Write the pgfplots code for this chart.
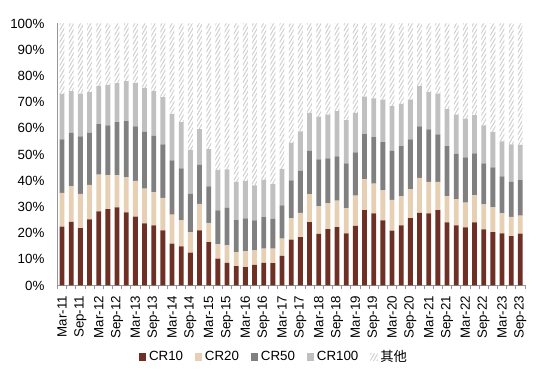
\documentclass[border=0pt]{standalone}
\usepackage{fontspec}
\setmainfont{Liberation Sans}
\newfontfamily\cjk{Noto Sans CJK SC}
\usepackage{pgfplots}
\pgfplotsset{compat=1.18}
\usepackage{pgfplotstable}
\usetikzlibrary{patterns.meta}
\definecolor{cra}{RGB}{110,48,36}
\definecolor{crb}{RGB}{230,207,178}
\definecolor{crc}{RGB}{128,128,128}
\definecolor{crd}{RGB}{192,192,192}
\definecolor{hatch}{RGB}{205,205,205}
\definecolor{axisgray}{RGB}{150,150,150}
\pgfplotstableread{
i a b c d e
0 22.5 12.8 20.5 17.2 27.0
1 24.3 13.5 20.5 15.9 25.8
2 21.9 13.1 21.9 16.3 26.8
3 25.2 13.2 19.8 15.6 26.2
4 28.3 14.0 19.3 14.6 23.8
5 29.1 13.0 19.0 15.4 23.5
6 29.8 12.3 20.2 14.9 22.8
7 27.9 13.4 21.4 15.3 22.0
8 26.3 13.6 20.8 16.5 22.8
9 23.7 13.3 21.6 16.8 24.6
10 22.9 12.6 21.6 17.2 25.7
11 21.0 12.4 20.5 18.0 28.1
12 16.0 11.0 20.7 17.7 34.6
13 14.9 9.9 19.9 17.6 37.7
14 12.5 7.8 14.8 16.7 48.2
15 21.0 10.1 15.0 13.6 40.3
16 16.5 7.4 13.9 14.2 48.0
17 10.2 5.6 12.9 15.3 56.0
18 8.6 6.7 14.4 14.6 55.7
19 7.4 5.3 12.2 14.6 60.5
20 7.0 6.0 12.6 14.2 60.2
21 7.9 5.5 11.4 13.4 61.8
22 8.6 5.5 12.0 14.2 59.7
23 8.5 5.6 11.4 13.3 61.2
24 11.3 6.6 12.7 13.8 55.6
25 17.5 8.2 14.4 14.3 45.6
26 18.5 9.2 16.1 15.0 41.2
27 24.2 10.7 16.5 14.5 34.1
28 19.7 10.5 17.9 16.3 35.6
29 21.5 9.9 17.1 16.7 34.8
30 22.3 10.1 16.9 17.2 33.5
31 19.9 9.6 17.1 16.5 36.9
32 22.7 11.6 16.5 15.1 34.1
33 28.8 11.8 17.2 14.3 27.9
34 27.5 11.4 17.7 14.8 28.6
35 24.8 11.6 18.3 16.2 29.1
36 20.9 11.8 18.7 17.1 31.5
37 22.9 11.1 19.2 16.1 30.7
38 25.7 11.0 19.1 15.1 29.1
39 27.7 13.4 19.6 15.4 23.9
40 27.5 12.0 20.1 14.2 26.2
41 28.8 10.7 18.2 15.5 26.8
42 24.1 10.0 19.1 14.1 32.7
43 22.9 10.1 17.3 14.9 34.8
44 22.2 9.4 17.3 14.8 36.3
45 24.1 10.3 16.0 14.6 35.0
46 21.4 9.6 15.6 14.5 38.9
47 20.4 9.4 15.3 13.5 41.4
48 19.9 7.7 14.0 13.4 45.0
49 18.8 7.4 13.3 14.4 46.1
50 19.8 6.9 13.5 13.5 46.3
}\datatable
\pgfplotsset{sqlegend/.style={legend image code/.code={\draw[##1,draw=none] (0pt,-2.7pt) rectangle (5.4pt,2.7pt);}}}
\begin{document}
\begin{tikzpicture}
\begin{axis}[
  scale only axis, width=350.6pt, height=196.5pt,
  ybar stacked, bar width=3.6pt,
  xmin=-0.5, xmax=50.5, ymin=0, ymax=100,
  axis x line*=bottom, axis y line*=left,
  axis line style={draw=axisgray, line width=0.6pt},
  xtick={0,2,...,50},
  xticklabels={Mar-11,Sep-11,Mar-12,Sep-12,Mar-13,Sep-13,Mar-14,Sep-14,Mar-15,Sep-15,Mar-16,Sep-16,Mar-17,Sep-17,Mar-18,Sep-18,Mar-19,Sep-19,Mar-20,Sep-20,Mar-21,Sep-21,Mar-22,Sep-22,Mar-23,Sep-23},
  minor xtick={-0.5,0.5,...,50.5},
  major x tick style={draw=none},
  minor x tick style={draw=axisgray, line width=0.6pt},
  tick align=outside, minor tick length=2.5pt,
  ytick={0,10,...,100},
  yticklabels={0\%,10\%,20\%,30\%,40\%,50\%,60\%,70\%,80\%,90\%,100\%},
  y tick style={draw=none},
  x tick label style={rotate=90, anchor=east, font=\fontsize{10}{12}\selectfont},
  y tick label style={font=\fontsize{10}{12}\selectfont, xshift=-2pt},
  legend columns=5,
  legend style={draw=none, fill=none, at={(0.464,-0.273)}, anchor=center,
    font=\fontsize{10}{12}\selectfont,
    /tikz/every even column/.append style={column sep=7pt}},
]
\addplot[fill=cra, draw=none, sqlegend] table[x=i,y=a]{\datatable};
\addplot[fill=crb, draw=none, sqlegend] table[x=i,y=b]{\datatable};
\addplot[fill=crc, draw=none, sqlegend] table[x=i,y=c]{\datatable};
\addplot[fill=crd, draw=none, sqlegend] table[x=i,y=d]{\datatable};
\addplot[draw=none, pattern={Lines[angle=60,distance=2.2pt,line width=0.7pt]}, pattern color=hatch, sqlegend] table[x=i,y=e]{\datatable};
\legend{CR10,CR20,CR50,CR100,{\cjk 其他}}
\end{axis}
\path (-43.1pt,-75.4pt) rectangle (363.4pt,214.1pt);
\end{tikzpicture}
\end{document}
